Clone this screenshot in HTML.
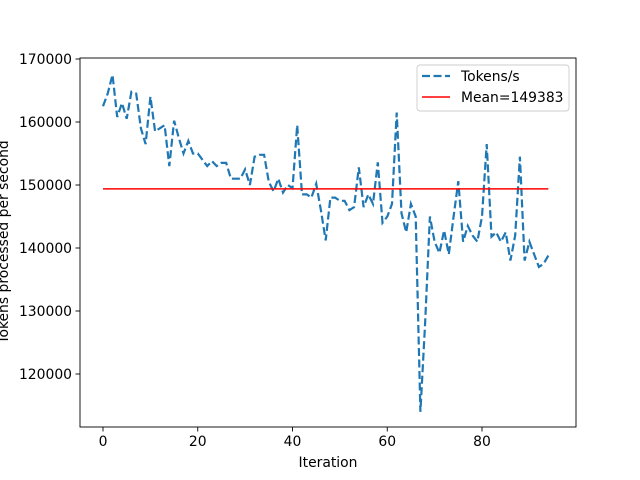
<!DOCTYPE html>
<html><head><meta charset="utf-8"><style>body{margin:0;background:#fff}svg{display:block;font-family:"DejaVu Sans","Liberation Sans",sans-serif}</style></head>
<body>
<svg id="c" width="640" height="480"></svg>
<script>
const iterations = Array.from({length:95},(_,i)=>i);
const tokensPerSec = [162500,164500,167500,160800,163000,160500,164800,164500,159000,156500,164000,158500,159000,159500,153000,160200,157500,155000,157000,155000,155000,154000,153000,153800,153000,153500,153500,151000,151000,151000,152500,150000,154500,154800,154800,150500,149000,151000,148800,150000,149500,159500,148500,148500,148000,150200,146000,141200,148000,148000,147500,147500,146000,146500,152800,146500,148500,147000,153600,144000,145000,147000,161500,145500,142500,147000,145000,114000,128000,145000,141000,139200,142800,139000,145000,150600,141000,143500,142000,141000,145000,156500,141800,142500,141000,142500,138000,142000,154500,138000,141000,139000,137000,137500,138800];
const meanValue = 149383;
const xTicks = [0,20,40,60,80];
const yTicks = [120000,130000,140000,150000,160000,170000];
const L=80,R=576,T=58,B=427;
const xs=v=>103+(v-0)*(482-103)/80;
const ys=v=>374+(v-120000)*(59-374)/50000;
const svg=document.getElementById('c');const NS='http://www.w3.org/2000/svg';
function mk(t,a,p){const e=document.createElementNS(NS,t);for(const k in a)e.setAttribute(k,a[k]);(p||svg).appendChild(e);return e;}
let e;
e=mk('rect',{x:L,y:T,width:R-L,height:B-T,fill:'#fff'});


let d=iterations.map((x,i)=>(i?'L':'M')+xs(x).toFixed(1)+','+ys(tokensPerSec[i]).toFixed(1)).join('');
e=mk('path',{d:d,fill:'none',stroke:'#1f77b4','stroke-width':2.2,'stroke-dasharray':'8,3.5'});


e=mk('line',{x1:xs(0),x2:xs(94),y1:ys(meanValue),y2:ys(meanValue),stroke:'#ff0000','stroke-width':1.6});


e=mk('rect',{x:L,y:T,width:R-L,height:B-T,fill:'none',stroke:'#000','stroke-width':0.9});


xTicks.forEach(v=>{const x=xs(v);
e=mk('line',{x1:x,x2:x,y1:B,y2:B+4.5,stroke:'#000','stroke-width':0.9});


e=mk('text',{x:x,y:B+19,'text-anchor':'middle','font-size':'13.9px'});e.textContent=v;

});
yTicks.forEach(v=>{const y=ys(v);
e=mk('line',{x1:L-4.5,x2:L,y1:y,y2:y,stroke:'#000','stroke-width':0.9});


e=mk('text',{x:L-8,y:y+5,'text-anchor':'end','font-size':'13.9px'});e.textContent=v;

});
e=mk('text',{x:328,y:467,'text-anchor':'middle','font-size':'13.9px'});e.textContent='Iteration';


e=mk('text',{x:0,y:0,'text-anchor':'middle','font-size':'13.9px',transform:'translate(8,242) rotate(-90)'});e.textContent='Tokens processed per second';


const g=mk('g',{});


mk('rect',{x:417,y:65,width:152,height:46,rx:3,fill:'#fff','fill-opacity':0.8,stroke:'#ccc','stroke-width':0.9},g);
mk('line',{x1:422,x2:450,y1:76,y2:76,stroke:'#1f77b4','stroke-width':2.2,'stroke-dasharray':'8,3.5'},g);
e=mk('text',{x:461,y:81,'font-size':'13.9px'},g);e.textContent='Tokens/s';


mk('line',{x1:422,x2:450,y1:97,y2:97,stroke:'#ff0000','stroke-width':1.6},g);
e=mk('text',{x:461,y:102,'font-size':'13.9px'},g);e.textContent='Mean='+meanValue;


</script>
</body></html>
